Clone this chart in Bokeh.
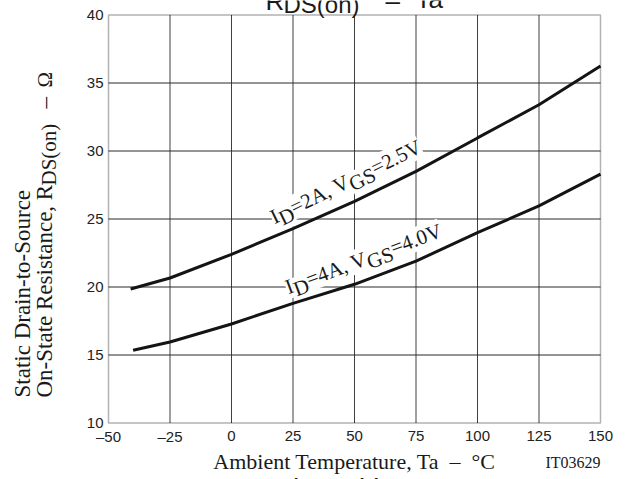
import math
from bokeh.plotting import figure
from bokeh.models import Range1d, Label, BoxAnnotation
from bokeh.core.properties import value
from bokeh.embed import file_html
from bokeh.resources import INLINE

# ---------------- data ----------------
temps_id2 = [-41, -25, 0, 25, 50, 75, 100, 125, 150]
rds_id2_vgs25 = [19.85, 20.66, 22.4, 24.3, 26.3, 28.5, 30.96, 33.4, 36.25]
temps_id4 = [-40, -25, 0, 25, 50, 75, 100, 125, 150]
rds_id4_vgs40 = [15.35, 15.96, 17.28, 18.8, 20.2, 21.9, 24.0, 25.96, 28.3]

x_ticks = [-50, -25, 0, 25, 50, 75, 100, 125, 150]
x_tick_labels = ["\u201350", "\u201325", "0", "25", "50", "75", "100", "125", "150"]
y_ticks = [10, 15, 20, 25, 30, 35, 40]
y_tick_labels = ["10", "15", "20", "25", "30", "35", "40"]

# ---------------- layout (page pixels) ----------------
W, H = 622, 479
FX0, FX1 = 108, 600          # page px of x_ticks[0], x_ticks[-1]
FY0, FY1 = 422.5, 14.5       # page px of y_ticks[0], y_ticks[-1]
XMIN, XMAX = x_ticks[0], x_ticks[-1]
YMIN, YMAX = y_ticks[0], y_ticks[-1]
SX = (XMAX - XMIN) / (FX1 - FX0)
SY = (YMAX - YMIN) / (FY0 - FY1)

def px2x(px):
    return XMIN + (px - FX0) * SX

def py2y(py):
    return YMIN + (FY0 - py) * SY

p = figure(width=W, height=H, output_backend="svg", toolbar_location=None,
           title=None, x_axis_location=None, y_axis_location=None,
           x_range=Range1d(px2x(0), px2x(W)), y_range=Range1d(py2y(H), py2y(0)))
p.min_border = 0
p.background_fill_color = "white"
p.border_fill_color = "white"
p.outline_line_color = None
# the automatic grids would span the whole canvas: hide them
p.xgrid.grid_line_color = None
p.ygrid.grid_line_color = None

# grid lines at the tick values (1 px wide), limited to the chart box
inner_x = x_ticks[1:-1]
inner_y = y_ticks[1:-1]
p.vbar(x=inner_x, width=SX * 1.0, bottom=YMIN, top=YMAX,
       fill_color="#404040", line_color=None, level="image")
p.hbar(y=inner_y, height=SY * 1.0, left=XMIN, right=XMAX,
       fill_color="#2a2a2a", line_color=None, level="image")

# curves
p.line(temps_id2, rds_id2_vgs25, line_color="#141414", line_width=3)
p.line(temps_id4, rds_id4_vgs40, line_color="#141414", line_width=3)

# chart box
p.add_layout(BoxAnnotation(left=XMIN, right=XMAX, bottom=YMIN, top=YMAX,
                           fill_color=None, fill_alpha=0, line_color="black",
                           line_width=1.5, level="overlay"))

# tick labels placed through the scales at the tick values
p.text(x=x_ticks, y=[py2y(FY0 + 13)] * len(x_ticks), text=x_tick_labels,
       text_font=value("Liberation Sans"), text_font_size=value("15px"),
       text_color="#222222", text_align="center", text_baseline="middle")
p.text(x=[px2x(FX0 - 5)] * len(y_ticks), y=y_ticks, text=y_tick_labels,
       text_font=value("Liberation Sans"), text_font_size=value("15px"),
       text_color="#222222", text_align="right", text_baseline="middle")

# ---------------- text helpers ----------------
TIMES = {"I": 333, "D": 722, "=": 564, "A": 722, ",": 250, " ": 250, "V": 722,
         "G": 722, "S": 556, ".": 250, "0": 500, "2": 500, "4": 500, "5": 500}
MID = 0.34   # distance (in em) from the alphabetic baseline up to the text middle

def tw(text, size):
    return sum(TIMES.get(ch, 500) for ch in text) / 1000.0 * size

def add_label(text, bx, by, size, font="Liberation Serif", angle=0, align="left",
              color="#1a1a1a", bg=None):
    """bx, by: page px of the point on the alphabetic baseline."""
    a = math.radians(angle)
    k = MID * size
    mx = bx - math.sin(a) * k
    my = by - math.cos(a) * k
    kw = {}
    if bg:
        kw = dict(background_fill_color=bg, level="underlay")
    p.add_layout(Label(x=px2x(mx), y=py2y(my), text=text, angle=angle, angle_units="deg",
                       text_font=font, text_font_size=f"{size}px", text_color=color,
                       text_align=align, text_baseline="middle", **kw))

def rotated_text(frags, start_px, start_py, angle_deg, bg=None):
    a = math.radians(angle_deg)
    d = 0.0
    for text, size, shift in frags:
        dx = d * math.cos(a) + shift * math.sin(a)
        dy_up = d * math.sin(a) - shift * math.cos(a)
        add_label(text, start_px + dx, start_py - dy_up, size, angle=angle_deg, bg=bg)
        d += tw(text, size)

# curve labels
rotated_text([("I", 21, 0), ("D", 21, 5), ("=2A, V", 21, 0), ("GS", 21, 5), ("=2.5V", 21, 0)],
             274, 224, 26, bg="white")
rotated_text([("I", 21, 0), ("D", 21, 5), ("=4A, V", 21, 0), ("GS", 21, 5), ("=4.0V", 21, 0)],
             288, 294, 20.5, bg="white")

# y axis title (two rotated lines)
add_label("Static Drain-to-Source", 30, 397, 23, angle=90)
add_label("On-State Resistance, R", 51.5, 397, 23, angle=90)
add_label("DS(on)", 56, 185, 21, angle=90)
add_label("\u2013", 51.5, 108, 23, angle=90)
add_label("\u03a9", 51.5, 87, 21, angle=90)

# x axis title and figure code
add_label("Ambient Temperature, Ta \u00a0\u2013\u00a0 \u00b0C", 354, 468, 22, align="center")
add_label("IT03629", 600, 467, 16, align="right")

# chart title, cut off by the top edge (as in the reference)
add_label("R", 265, 9, 26, font="Liberation Sans")
add_label("DS(on)", 283, 12, 24, font="Liberation Sans")
add_label("\u2013", 385, 9, 26, font="Liberation Sans")
add_label("Ta", 415, 7, 26, font="Liberation Sans")

# next chart's title, cut off by the bottom edge (as in the reference)
add_label("I", 292, 495, 26, font="Liberation Sans")
add_label("D", 300, 499, 24, font="Liberation Sans")
add_label("\u2013", 330, 495, 26, font="Liberation Sans")
add_label("V", 360, 495, 26, font="Liberation Sans")
add_label("GS", 377, 499, 24, font="Liberation Sans")

open("out.html", "w").write(file_html(p, INLINE))
